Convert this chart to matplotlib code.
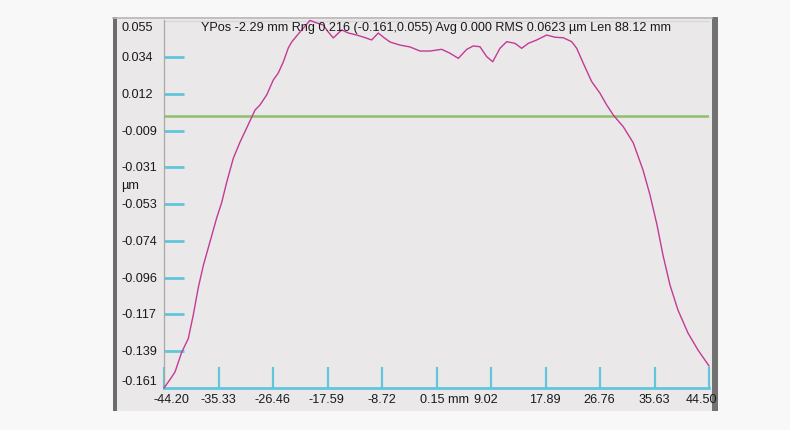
import matplotlib; matplotlib.use("Agg")
import matplotlib.pyplot as plt
import matplotlib.transforms as mtrans
from matplotlib.patches import Rectangle
from matplotlib.lines import Line2D
import numpy as np

plt.rcParams["font.family"] = ["Liberation Sans", "DejaVu Sans"]

# profile trace: position [mm] vs height [um]
POS = [-44.20, -43.22, -42.41, -41.32, -40.25, -39.43, -38.62, -37.80, -36.71, -35.62,
       -34.81, -33.99, -32.92, -31.83, -30.74, -29.39, -28.58, -27.49, -26.41, -25.60,
       -24.78, -23.97, -23.42, -22.07, -20.44, -19.35, -18.28, -17.47, -16.65, -15.28,
       -14.21, -12.84, -11.76, -10.40, -9.32, -8.51, -7.42, -5.79, -4.16, -2.53,
       -0.91, 0.99, 2.35, 3.70, 5.07, 6.14, 7.23, 8.32, 9.30, 10.48,
       11.57, 12.92, 14.01, 15.09, 16.46, 18.08, 19.43, 20.79, 22.15, 22.97,
       24.04, 25.41, 26.76, 27.85, 28.92, 30.55, 32.18, 33.76, 34.90, 36.04,
       37.01, 38.15, 39.45, 41.08, 42.71, 44.50]
HEIGHT = [-0.161, -0.156, -0.1516, -0.140, -0.132, -0.118, -0.102, -0.089, -0.075, -0.061,
          -0.052, -0.040, -0.026, -0.0165, -0.0082, 0.0023, 0.0053, 0.0112, 0.020, 0.0241,
          0.0306, 0.0388, 0.0423, 0.0482, 0.055, 0.0535, 0.0523, 0.0482, 0.0447, 0.0494,
          0.0476, 0.0464, 0.0452, 0.0435, 0.0476, 0.0452, 0.0423, 0.0405, 0.0394, 0.0370,
          0.0370, 0.0380, 0.0357, 0.0327, 0.0380, 0.0400, 0.0395, 0.0337, 0.0307, 0.0386,
          0.0425, 0.0415, 0.0386, 0.0415, 0.0435, 0.0464, 0.0451, 0.0448, 0.0425, 0.0386,
          0.0298, 0.0190, 0.0122, 0.0053, -0.0006, -0.0075, -0.0170, -0.0329, -0.0476, -0.0652,
          -0.0829, -0.1005, -0.1152, -0.1287, -0.1387, -0.148]
AVG_LEVEL = -0.0012
X_MIN, X_MAX = -44.20, 44.50
Y_MIN, Y_MAX = -0.161, 0.055
X_TICKLABELS = ["-44.20", "-35.33", "-26.46", "-17.59", "-8.72", "0.15 mm",
                "9.02", "17.89", "26.76", "35.63", "44.50"]
Y_TICKLABELS = ["0.055", "0.034", "0.012", "-0.009", "-0.031", "-0.053",
                "-0.074", "-0.096", "-0.117", "-0.139", "-0.161"]
Y_UNIT = "µm"
HEADER = "YPos -2.29 mm Rng 0.216 (-0.161,0.055) Avg 0.000 RMS 0.0623 µm Len 88.12 mm"

W, H = 790, 430
CYAN = "#62c6db"; MAG = "#c23a96"; GREEN = "#8fbe6c"; PANEL = "#ebe8e9"
FS = 9.1

def fx(px): return px / W
def fy(py): return 1 - py / H

fig = plt.figure(figsize=(W / 100, H / 100), dpi=100, facecolor="#f9f8f9")
# instrument panel + dark side strips (behind the axes)
fig.patches.append(Rectangle((fx(113), fy(411)), fx(605), (411 - 17) / H, transform=fig.transFigure,
                             facecolor=PANEL, edgecolor="none", zorder=-10))
fig.patches.append(Rectangle((fx(113), fy(411)), fx(4), (411 - 17) / H, transform=fig.transFigure,
                             facecolor="#6d6d6d", edgecolor="none", zorder=-9))
fig.patches.append(Rectangle((fx(712), fy(411)), fx(6), (411 - 17) / H, transform=fig.transFigure,
                             facecolor="#727272", edgecolor="none", zorder=-9))
fig.lines.append(Line2D([fx(113), fx(712)], [fy(17.5), fy(17.5)], transform=fig.transFigure,
                        color="#b9b7b8", lw=1.2, zorder=-8))
fig.lines.append(Line2D([fx(164), fx(708)], [fy(20.5), fy(20.5)], transform=fig.transFigure,
                        color="#d8d6d7", lw=1.0, zorder=-8))

ax = fig.add_axes([fx(164), fy(388), fx(709 - 164), (388 - 20.4) / H])
ax.set_facecolor("none")
ax.set_xlim(X_MIN, X_MAX); ax.set_ylim(Y_MIN, Y_MAX)
for s in ("top", "right", "bottom"): ax.spines[s].set_visible(False)
ax.spines["left"].set_color("#a9a7a8"); ax.spines["left"].set_linewidth(0.9)

xt = np.linspace(X_MIN, X_MAX, len(X_TICKLABELS))
yt = np.linspace(Y_MAX, Y_MIN, len(Y_TICKLABELS))
ax.set_xticks(xt); ax.set_xticklabels([])
ax.set_yticks(yt[1:-1]); ax.set_yticklabels([])
ax.tick_params(axis="x", direction="in", length=15, width=1.6, color=CYAN)
ax.tick_params(axis="y", direction="in", length=14.5, width=2.0, color=CYAN)
ax.axhline(Y_MIN, color=CYAN, lw=2.0, zorder=3, clip_on=False)

ax.axhline(AVG_LEVEL, color=GREEN, lw=1.8, zorder=2)
ax.plot(POS, HEIGHT, color=MAG, lw=1.0, zorder=4, clip_on=False)

# y labels, left-aligned in the margin; ends pushed inward like the original
lab_tr = mtrans.blended_transform_factory(fig.transFigure, ax.transData)
for i, (v, t) in enumerate(zip(yt, Y_TICKLABELS)):
    dy = -8 if i == 0 else (6 if i == len(yt) - 1 else -1)
    tr = lab_tr + mtrans.ScaledTranslation(0, dy / 100, fig.dpi_scale_trans)
    ax.text(fx(121), v, t, transform=tr, ha="left", va="center", fontsize=FS, color="#1a1a1a")
ax.text(fx(121), fy(186), Y_UNIT, transform=fig.transFigure, ha="left", va="center",
        fontsize=FS, color="#1a1a1a")

# x labels under the cyan axis
xl_tr = mtrans.blended_transform_factory(ax.transData, ax.transAxes)
x_off = [7, 0, -1, -1, 0, 0, -5, -1, -1, 0, -8]
for v, t, dx in zip(xt, X_TICKLABELS, x_off):
    ha = "center"
    if t.endswith("mm"):
        ha = "left"; dx = -16.5
    tr = xl_tr + mtrans.ScaledTranslation(dx / 100, -12 / 100, fig.dpi_scale_trans)
    ax.text(v, 0, t, transform=tr, ha=ha, va="center", fontsize=FS, color="#1a1a1a", clip_on=False)

fig.text(fx(436), fy(28), HEADER, ha="center", va="center", fontsize=FS, color="#1a1a1a", zorder=3)

fig.savefig("out.png", dpi=100, facecolor=fig.get_facecolor())
